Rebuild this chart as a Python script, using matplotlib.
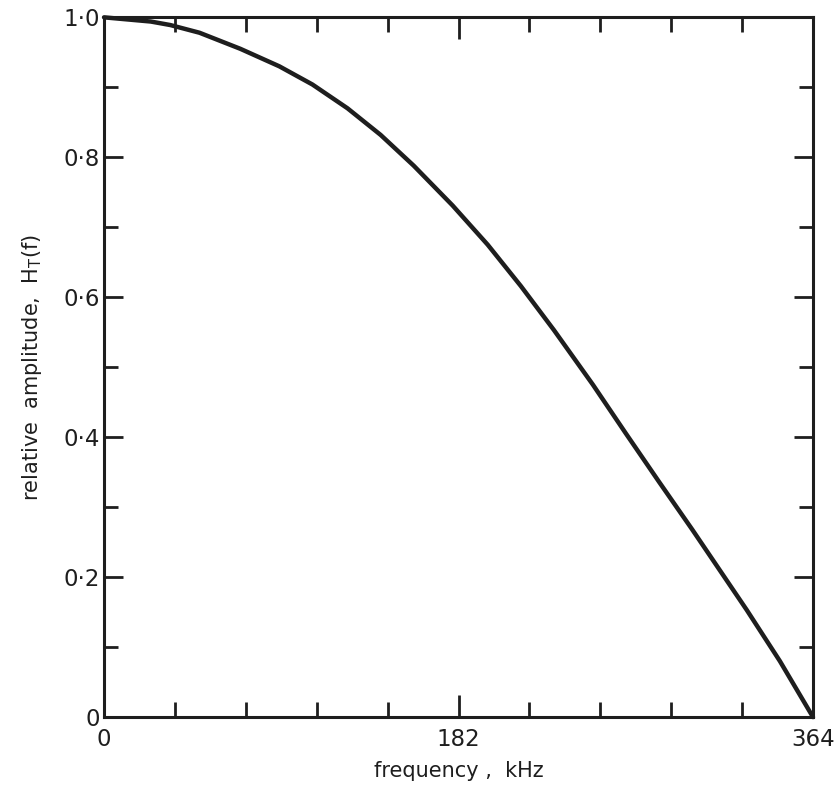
import numpy as np
import matplotlib.pyplot as plt
from matplotlib.ticker import FixedLocator, MultipleLocator

# values
freq_khz = [0, 24, 34, 49, 70, 90, 107, 125, 142, 159, 179, 197, 214, 231,
            241, 251, 268, 285, 302, 330, 347, 364]
amplitude = [1.0, 0.994, 0.989, 0.978, 0.955, 0.930, 0.904, 0.870, 0.832, 0.788,
             0.731, 0.675, 0.616, 0.553, 0.514, 0.475, 0.405, 0.336, 0.268,
             0.153, 0.080, 0.0]

x_major = [0, 182, 364]
x_labels = ["0", "182", "364"]
y_major = [0, 0.2, 0.4, 0.6, 0.8, 1.0]
y_labels = ["0", "0·2", "0·4", "0·6", "0·8", "1·0"]

plt.rcParams['mathtext.default'] = 'regular'
ink = "#1e1e1e"

fig = plt.figure(figsize=(8.39, 7.88), dpi=100)
ax = fig.add_axes([0.124, 0.090, 0.845, 0.888])

ax.plot(freq_khz, amplitude, color=ink, lw=3.2, solid_joinstyle='round',
        solid_capstyle='round', clip_on=False)

ax.set_xlim(0, 364)
ax.set_ylim(0, 1.0)

ax.xaxis.set_major_locator(FixedLocator(x_major))
ax.xaxis.set_minor_locator(MultipleLocator(36.4))
ax.set_xticklabels(x_labels)
ax.yaxis.set_major_locator(FixedLocator(y_major))
ax.yaxis.set_minor_locator(MultipleLocator(0.1))
ax.set_yticklabels(y_labels)

ax.tick_params(which='both', direction='in', top=True, right=True,
               color=ink, width=2, labelsize=16.5, labelcolor=ink)
ax.tick_params(axis='x', which='major', length=16, pad=8)
ax.tick_params(axis='x', which='minor', length=11)
ax.tick_params(axis='y', which='major', length=14, pad=3)
ax.tick_params(axis='y', which='minor', length=10)

for s in ax.spines.values():
    s.set_linewidth(2.2)
    s.set_color(ink)

ax.set_xlabel("frequency ,  kHz", fontsize=15, color=ink, labelpad=7)
ax.set_ylabel("relative  amplitude,  H$_{T}$(f)", fontsize=15, color=ink, labelpad=14)

fig.savefig("out.png", dpi=100, facecolor="white")
